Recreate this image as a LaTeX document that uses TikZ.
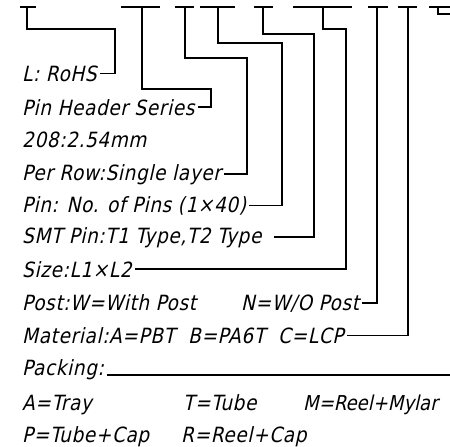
\documentclass[tikz,border=0pt]{standalone}
\usepackage{fontspec}
\newfontfamily\isofont{DejaVu Sans}[FakeStretch=0.88,FakeSlant=0.22,LetterSpace=3]
\tikzset{
  linea/.style={line width=1.6pt},
  testo/.style={anchor=base west,inner xsep=3pt,inner ysep=0pt,
    font=\isofont\fontsize{21}{25}\selectfont}
}
\begin{document}
\begin{tikzpicture}[x=1pt,y=-1pt]
    \useasboundingbox (0,0) rectangle (450,447);
    %barrette in alto
    \foreach \s/\l/\r [count=\i] in {27/20/36,142/121/160,185/175/194,218/200/235,
        263/254/273,323/293/352,377/368/388,408/398/417,438/429/450}{
        \draw[linea](\l,7)--(\r,7);
        \coordinate (t\i) at (\s,7);
    }
    \coordinate (fine) at (450,0);

    %testi
    \node[testo] (rohs) at (19,81) {L: RoHS};
    \node[testo] (serie) at (19,115) {Pin Header Series};
    \node[testo] (passo) at (19,147) {208:2.54mm};
    \node[testo] (fila) at (19,180) {Per Row:Single layer};
    \node[testo] (pin) at (19,212) {Pin: No. of Pins (1×40)};
    \node[testo] (smt) at (19,243) {SMT Pin:T1 Type,T2 Type};
    \node[testo] (size) at (19,277) {Size:L1×L2};
    \node[testo] (postw) at (19,310) {Post:W=With Post};
    \node[testo] (postn) at (238,310) {N=W/O Post};
    \node[testo] (mata) at (19,343) {Material:A=PBT};
    \node[testo] (matb) at (185,343) {B=PA6T};
    \node[testo] (matc) at (275,343) {C=LCP};
    \node[testo] (pack) at (19,375) {Packing:};
    \node[testo] (tray) at (19,410) {A=Tray};
    \node[testo] (tube) at (180,410) {T=Tube};
    \node[testo,font=\isofont\fontsize{20.5}{25}\selectfont\addfontfeature{LetterSpace=0}]
        (mylar) at (300,410) {M=Reel+Mylar};
    \node[testo] (tcap) at (19,442) {P=Tube+Cap};
    \node[testo] (rcap) at (178,442) {R=Reel+Cap};

    %linee di richiamo
    \draw[linea](t1)|-++(88,22)|-(rohs.east);
    \draw[linea](t2)|-++(69,82)|-(serie.east);
    \draw[linea](t3)|-++(62,51)|-(fila.east);
    \draw[linea](t4)|-++(64,36)|-(pin.east);
    \draw[linea](t5)|-++(51,27)|-([xshift=9pt]smt.east);
    \draw[linea](t6)|-++(23,22)|-(size.east);
    \draw[linea](t7)|-(postn.east);
    \draw[linea](t8)|-(matc.east);
    \draw[linea](t9)|-++(12,7);
    %linea packing
    \draw[linea](pack.base east)--(pack.base east-|fine);
\end{tikzpicture}
\end{document}
